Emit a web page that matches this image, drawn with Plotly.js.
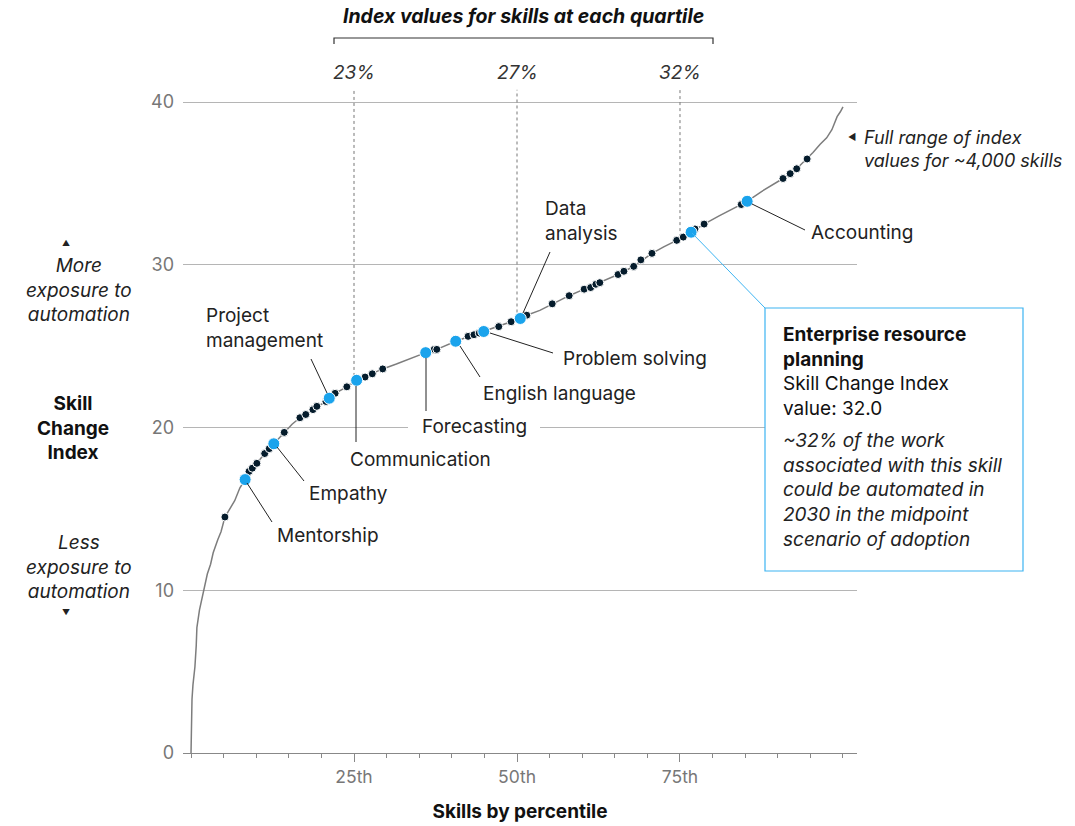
<!DOCTYPE html>
<html>
<head>
<meta charset="utf-8">
<script src="https://cdn.plot.ly/plotly-3.0.1.min.js"></script>
<style>
html,body{margin:0;padding:0;background:#fff;}
#chart{width:1075px;height:826px;}
</style>
</head>
<body>
<div id="chart"></div>
<script>
// ---------- DATA ----------
// Full curve of index values by skill percentile
const curveX = [0,0.05,0.1,0.15,0.3,0.6,0.8,0.9,1.3,1.9,2.5,3.0,3.4,4.1,4.6,5.2,6.0,6.7,7.5,8.3,9.4,10.1,11.3,12.7,14.3,15.5,16.7,18.7,20.7,22.1,23.9,25.4,27.8,29.4,31.5,34,36.0,37.7,40.6,43.4,44.9,47.2,49.1,50.5,51.5,53.5,55.4,58.0,60.3,62.7,65.5,67.9,70.7,72.5,74.5,76.7,78.7,81,84.4,85.3,87.5,89.5,90.8,92.9,94.5,95.4,96.5,97.5,98.3,99.1,99.6,100];
const curveY = [0,1.2,2.4,3.3,4.2,5.3,6.6,7.7,8.8,10.0,11.0,11.6,12.3,13.1,13.6,14.5,15.0,15.5,16.3,16.8,17.5,17.8,18.4,19.0,19.7,20.2,20.6,21.1,21.6,22.1,22.5,22.9,23.3,23.6,23.9,24.3,24.6,24.8,25.3,25.7,25.9,26.2,26.5,26.7,26.9,27.2,27.6,28.1,28.5,28.9,29.4,29.9,30.7,31.1,31.5,32.0,32.5,33.0,33.7,33.9,34.5,35.0,35.3,35.9,36.5,36.9,37.4,37.8,38.3,39.1,39.4,39.7];

// Sample skills shown as dark dots
const otherPct   = [5.2,8.9,9.4,10.1,11.3,12.0,14.3,16.7,17.6,18.7,19.3,20.7,22.1,23.9,26.7,27.8,29.4,37.3,37.7,42.5,43.4,44.2,47.2,49.1,51.5,55.4,58.0,60.3,61.3,62.1,62.7,65.5,66.4,67.9,69.0,70.7,74.5,75.5,77.3,78.7,84.4,90.8,91.9,92.9,94.5];
const otherIndex = [14.5,17.3,17.5,17.8,18.4,18.7,19.7,20.6,20.8,21.1,21.3,21.6,22.1,22.5,23.1,23.3,23.6,24.8,24.8,25.6,25.7,25.8,26.2,26.5,26.9,27.6,28.1,28.5,28.6,28.8,28.9,29.4,29.6,29.9,30.3,30.7,31.5,31.7,32.2,32.5,33.7,35.3,35.6,35.9,36.5];

// Highlighted skills
const skillNames = ['Mentorship','Empathy','Project management','Communication','Forecasting','English language','Problem solving','Data analysis','Enterprise resource planning','Accounting'];
const skillPct   = [8.3,12.7,21.2,25.4,36.0,40.6,44.9,50.5,76.7,85.3];
const skillIndex = [16.8,19.0,21.8,22.9,24.6,25.3,25.9,26.7,32.0,33.9];

// Quartiles
const quartilePct   = [25,50,75];
const quartileLabel = ['23%','27%','32%'];
const quartileCurve = [22.8,26.7,31.7];

// Axis ticks
const yTicks = [0,10,20,30,40];
const xTicks = [25,50,75];
const xTickText = ['25th','50th','75th'];

// ---------- LAYOUT HELPERS (pixel -> paper) ----------
const L = 183, R = 857, T = 89, B = 753;
const PX = v => (v - L) / (R - L);
const PY = v => (B - v) / (B - T);
const FONT = 'Inter, "Liberation Sans", Arial, sans-serif';

// Label placements for highlighted skills
const labelPos = {
  'Mentorship':        {x:275, y:535, a:'left',   l:[247,483,272,522]},
  'Empathy':           {x:307, y:493, a:'left',   l:[277,447,304,481]},
  'Project management':{x:204, y:328, a:'left',   l:[311,359,327,393], txt:'Project<br>management'},
  'Communication':     {x:348, y:459, a:'left',   l:[356,386,356,442]},
  'Forecasting':       {x:474, y:426, a:'center', l:[426,358,426,411]},
  'English language':  {x:481, y:393, a:'left',   l:[460,346,480,377]},
  'Problem solving':   {x:561, y:358, a:'left',   l:[490,333,553,353]},
  'Data analysis':     {x:543, y:221, a:'left',   l:[550,252,523,313], txt:'Data<br>analysis'},
  'Accounting':        {x:809, y:232, a:'left',   l:[752,204,805,230]}
};

const traces = [
  {x: curveX, y: curveY, type:'scatter', mode:'lines',
   line:{color:'#7d7d7d', width:1.5}, hoverinfo:'skip', showlegend:false},
  {x: quartilePct.flatMap((p,i)=>[p,p,null]),
   y: quartileCurve.flatMap((c,i)=>[c,40.75,null]),
   type:'scatter', mode:'lines', line:{color:'#777', width:1, dash:'dot'},
   hoverinfo:'skip', showlegend:false},
  {x: otherPct, y: otherIndex, type:'scatter', mode:'markers',
   marker:{size:8, color:'#051c2c', line:{color:'#ffffff', width:1}},
   showlegend:false, cliponaxis:false},
  {x: skillPct, y: skillIndex, text: skillNames, type:'scatter', mode:'markers',
   marker:{size:12, color:'#1aa3ec', line:{color:'#ffffff', width:1}},
   showlegend:false, cliponaxis:false, hovertemplate:'%{text}: %{y:.1f}<extra></extra>'}
];

const shapes = [];
const annotations = [];

// white gap in the 20 gridline behind "Forecasting"
shapes.push({type:'rect', xref:'paper', yref:'paper', x0:PX(408), x1:PX(540), y0:PY(431), y1:PY(423),
  fillcolor:'#ffffff', line:{width:0}, layer:'above'});

// leader lines + labels
skillNames.forEach(n => {
  const p = labelPos[n];
  if (!p) return;
  shapes.push({type:'line', xref:'paper', yref:'paper', x0:PX(p.l[0]), y0:PY(p.l[1]), x1:PX(p.l[2]), y1:PY(p.l[3]),
    line:{color:'#222', width:1}});
  annotations.push({xref:'paper', yref:'paper', x:PX(p.x), y:PY(p.y), xanchor:p.a, yanchor:'middle',
    text:p.txt || n, showarrow:false, align:'left', font:{family:FONT, size:19, color:'#222'}});
});

// Enterprise resource planning callout box
shapes.push({type:'line', xref:'paper', yref:'paper', x0:PX(692), y0:PY(233), x1:PX(765), y1:PY(308),
  line:{color:'#3db4f2', width:1}});
shapes.push({type:'rect', xref:'paper', yref:'paper', x0:PX(765), x1:PX(1023), y0:PY(308), y1:PY(571),
  fillcolor:'#ffffff', line:{color:'#3db4f2', width:1.2}, layer:'above'});
annotations.push({xref:'paper', yref:'paper', x:PX(781), y:PY(321), xanchor:'left', yanchor:'top', align:'left',
  showarrow:false, font:{family:FONT, size:19, color:'#111'},
  text:'<b>Enterprise resource<br>planning</b><br>Skill Change Index<br>value: ' + skillIndex[8].toFixed(1)});
annotations.push({xref:'paper', yref:'paper', x:PX(781), y:PY(427), xanchor:'left', yanchor:'top', align:'left',
  showarrow:false, font:{family:FONT, size:19, color:'#222'},
  text:'<i>~32% of the work<br>associated with this skill<br>could be automated in<br>2030 in the midpoint<br>scenario of adoption</i>'});

// Full range note
annotations.push({xref:'paper', yref:'paper', x:PX(862), y:PY(149), xanchor:'left', yanchor:'middle', align:'left',
  showarrow:false, font:{family:FONT, size:18, color:'#222'},
  text:'<i>Full range of index<br>values for ~4,000 skills</i>'});
annotations.push({xref:'paper', yref:'paper', x:PX(852), y:PY(136), xanchor:'center', yanchor:'middle',
  showarrow:false, font:{family:FONT, size:9, color:'#222'}, text:'◀'});

// Top header + bracket
annotations.push({xref:'paper', yref:'paper', x:PX(523), y:PY(16), xanchor:'center', yanchor:'middle',
  showarrow:false, font:{family:FONT, size:19.5, color:'#111'},
  text:'<b><i>Index values for skills at each quartile</i></b>'});
shapes.push({type:'path', xref:'paper', yref:'paper',
  path:`M ${PX(334)} ${PY(44)} L ${PX(334)} ${PY(38)} L ${PX(713)} ${PY(38)} L ${PX(713)} ${PY(44)}`,
  line:{color:'#333', width:1.2}});
quartilePct.forEach((q,i) => {
  annotations.push({xref:'x', yref:'paper', x:q, y:PY(73), xanchor:'center', yanchor:'middle',
    showarrow:false, font:{family:FONT, size:19, color:'#333'}, text:'<i>'+quartileLabel[i]+'</i>'});
});

// Y-axis title and side notes
annotations.push({xref:'paper', yref:'paper', x:PX(73), y:PY(428), xanchor:'center', yanchor:'middle',
  showarrow:false, font:{family:FONT, size:19, color:'#111'}, text:'<b>Skill<br>Change<br>Index</b>'});
annotations.push({xref:'paper', yref:'paper', x:PX(79), y:PY(290), xanchor:'center', yanchor:'middle',
  showarrow:false, font:{family:FONT, size:19, color:'#222'}, text:'<i>More<br>exposure to<br>automation</i>'});
annotations.push({xref:'paper', yref:'paper', x:PX(66), y:PY(243), xanchor:'center', yanchor:'middle',
  showarrow:false, font:{family:FONT, size:8, color:'#222'}, text:'▲'});
annotations.push({xref:'paper', yref:'paper', x:PX(79), y:PY(567), xanchor:'center', yanchor:'middle',
  showarrow:false, font:{family:FONT, size:19, color:'#222'}, text:'<i>Less<br>exposure to<br>automation</i>'});
annotations.push({xref:'paper', yref:'paper', x:PX(66), y:PY(612), xanchor:'center', yanchor:'middle',
  showarrow:false, font:{family:FONT, size:8, color:'#222'}, text:'▼'});

const layout = {
  width:1075, height:826,
  margin:{l:L, r:1075-R, t:T, b:826-B, pad:0},
  paper_bgcolor:'#ffffff', plot_bgcolor:'#ffffff',
  font:{family:FONT, color:'#222'},
  showlegend:false,
  xaxis:{
    range:[-1.23,102.15], tickvals:xTicks, ticktext:xTickText,
    ticks:'outside', ticklen:8, tickcolor:'#888', tickwidth:1,
    minor:{dtick:5, tick0:0, ticks:'outside', ticklen:4, tickcolor:'#888', showgrid:false},
    showline:true, linecolor:'#888', linewidth:1.2,
    showgrid:false, zeroline:false,
    tickfont:{family:FONT, size:17.5, color:'#777'},
    title:{text:'<b>Skills by percentile</b>', standoff:18, font:{family:FONT, size:19, color:'#111'}},
    fixedrange:true
  },
  yaxis:{
    range:[0,40.8], tickvals:yTicks,
    showgrid:true, gridcolor:'#b5b5b5', gridwidth:1.3,
    zeroline:false, showline:false, ticks:'',
    tickfont:{family:FONT, size:18, color:'#777'},
    ticklabelstandoff:8,
    fixedrange:true
  },
  shapes: shapes,
  annotations: annotations
};

Plotly.newPlot('chart', traces, layout, {displayModeBar:false});
</script>
</body>
</html>
